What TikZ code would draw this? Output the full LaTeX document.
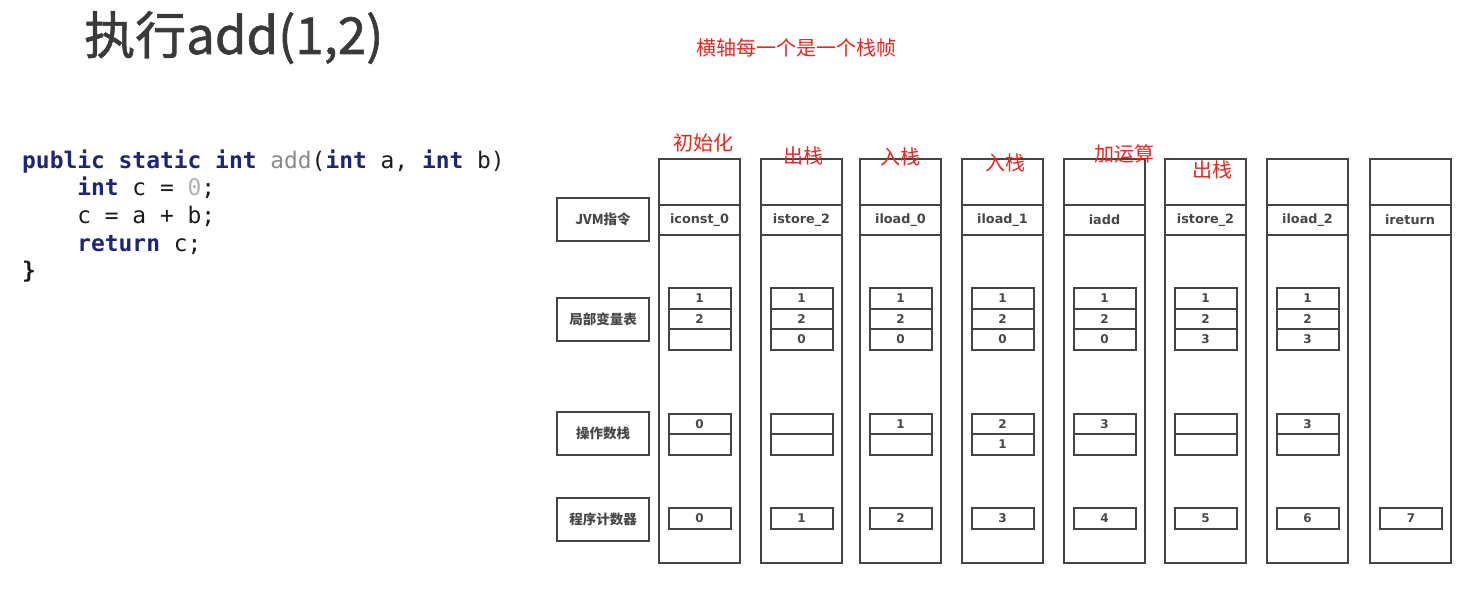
\documentclass[tikz,border=0pt]{standalone}
\usepackage{fontspec}
\newfontfamily\cjk{Noto Sans CJK SC}
\newfontfamily\titlefont[FakeBold=1.2]{Noto Sans CJK SC}
\newfontfamily\dvs{DejaVu Sans}
\setmonofont{DejaVu Sans Mono}
\definecolor{boxgray}{HTML}{444444}
\definecolor{txtgray}{HTML}{474747}
\definecolor{redlab}{HTML}{E8261E}
\definecolor{kw}{HTML}{1E2478}
\definecolor{fnname}{HTML}{8A8A8A}
\definecolor{numlit}{HTML}{B0B0B0}
\definecolor{titlegray}{HTML}{3A3A3A}
\definecolor{codetext}{HTML}{1A1A1A}
\tikzset{
  framebox/.style={draw=boxgray, line width=2pt, minimum width=81pt, minimum height=404pt, inner sep=0pt},
  instrbox/.style={draw=boxgray, line width=2pt, minimum width=81pt, minimum height=30pt, inner sep=0pt,
     text=txtgray, font=\dvs\bfseries\fontsize{12.8}{12.8}\selectfont},
  cell/.style={draw=boxgray, line width=2pt, minimum width=62pt, minimum height=20.5pt, inner sep=0pt,
     text=txtgray, font=\dvs\bfseries\fontsize{12}{12}\selectfont},
  sidebox/.style={draw=boxgray, line width=2pt, minimum width=92pt, minimum height=43pt, inner sep=0pt,
     text=txtgray, font=\cjk\bfseries\fontsize{13.5}{13.5}\selectfont},
  redtext/.style={text=redlab, anchor=base, inner sep=0pt, font=\cjk\fontsize{20}{20}\selectfont},
  codeline/.style={anchor=base west, inner sep=0pt, text=codetext, font=\ttfamily\fontsize{22.9}{27}\selectfont},
}
\newcommand\kwd[1]{{\bfseries\color{kw}#1}}
\newcommand\stackcolumn[9]{%
  \node[framebox] (#1) at (#2,361) {};
  \node[instrbox] (#1i) at (#2,220) {#3};
  \node[cell] (#1l1) at (#2,298.25) {#4};
  \node[cell] (#1l2) at (#2,318.75) {#5};
  \node[cell] (#1l3) at (#2,339.25) {#6};
  \node[cell] (#1o1) at (#2,423.75) {#7};
  \node[cell] (#1o2) at (#2,444.25) {#8};
  \node[cell] (#1p) at (#2,518.5) {#9};
}
\begin{document}
\begin{tikzpicture}[x=1pt,y=-1pt]
\useasboundingbox (0,0) rectangle (1474,599);
% title
\node[anchor=base west, inner sep=0pt, text=titlegray, font=\titlefont\fontsize{51}{51}\selectfont] (title) at (84,54) {执行add(1,2)};
\node[redtext] (axisnote) at (796,56) {横轴每一个是一个栈帧};
% code
\node[codeline] (code1) at (22,168) {\kwd{public} \kwd{static} \kwd{int} {\color{fnname}add}(\kwd{int} a, \kwd{int} b)};
\node[codeline] (code2) at (22,195.7) {\phantom{xxxx}\kwd{int} c = {\color{numlit}0};};
\node[codeline] (code3) at (22,223.4) {\phantom{xxxx}c = a + b;};
\node[codeline] (code4) at (22,251.1) {\phantom{xxxx}\kwd{return} c;};
\node[codeline] (code5) at (22,278.8) {\bfseries\}};
% side labels
\node[sidebox] (sjvm) at (603,219.5) {JVM指令};
\node[sidebox] (slv) at (603,319) {局部变量表};
\node[sidebox] (sos) at (603,433.5) {操作数栈};
\node[sidebox] (spc) at (603,519) {程序计数器};
% columns
\stackcolumn{ca}{699.5}{iconst\_0}{1}{2}{}{0}{}{0}
\stackcolumn{cb}{801.5}{istore\_2}{1}{2}{0}{}{}{1}
\stackcolumn{cc}{900.5}{iload\_0}{1}{2}{0}{1}{}{2}
\stackcolumn{cd}{1002.5}{iload\_1}{1}{2}{0}{2}{1}{3}
\stackcolumn{ce}{1104.5}{iadd}{1}{2}{0}{3}{}{4}
\stackcolumn{cf}{1205.5}{istore\_2}{1}{2}{3}{}{}{5}
\stackcolumn{cg}{1307.5}{iload\_2}{1}{2}{3}{3}{}{6}
\node[framebox] (ch) at (1410,361) {};
\node[instrbox] (chi) at (1410,220) {ireturn};
\node[cell] (chp) at (1411,518.5) {7};
% red annotations
\node[redtext] (n1) at (703,150.5) {初始化};
\node[redtext] (n2) at (803,163) {出栈};
\node[redtext] (n3) at (900,164) {入栈};
\node[redtext] (n4) at (1005,170) {入栈};
\node[redtext] (n5) at (1124,161) {加运算};
\node[redtext] (n6) at (1212,177) {出栈};
\end{tikzpicture}
\end{document}
